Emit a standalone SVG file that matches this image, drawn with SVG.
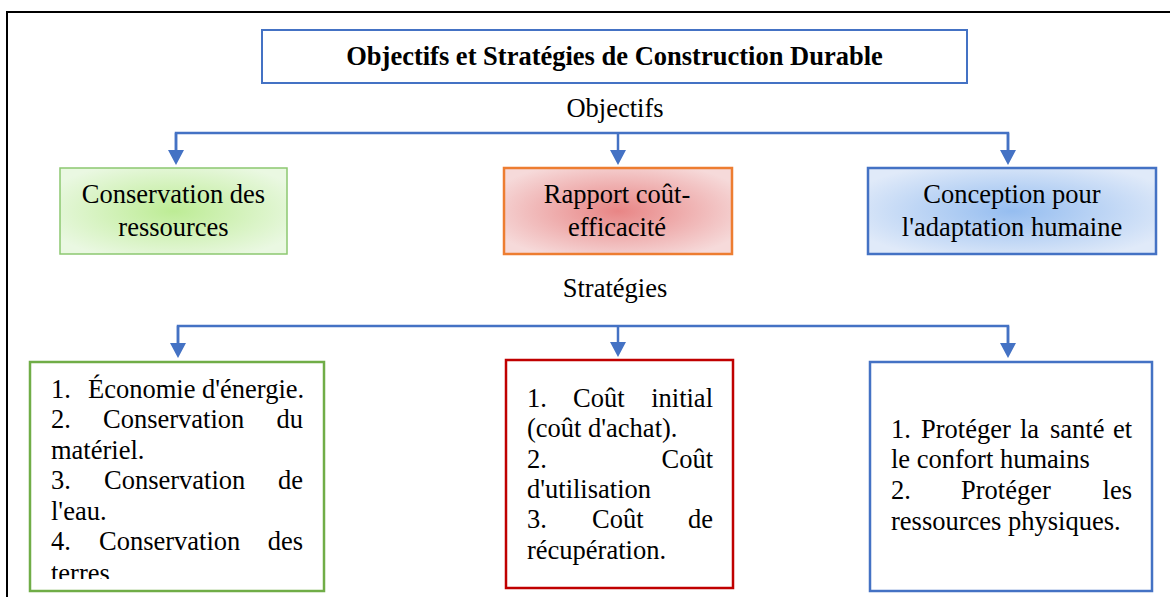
<svg xmlns="http://www.w3.org/2000/svg" width="1170" height="597" viewBox="0 0 1170 597">
<style>
text{font-family:"Liberation Serif","Times New Roman",serif;font-size:26.5px;fill:#000}
.title{font-weight:bold}
.c{text-anchor:middle}
.e{text-anchor:end}
.conn{fill:none;stroke:#4472C4;stroke-width:2.5}
</style>
<defs>
<marker id="arr" viewBox="0 0 15 16" refX="0" refY="8" markerWidth="15" markerHeight="16" orient="auto" markerUnits="userSpaceOnUse">
<path d="M0,0 L15,8 L0,16 z" fill="#4472C4"/>
</marker>
<radialGradient id="gGreen" cx="0.5" cy="0.5" r="0.6">
<stop offset="0" stop-color="#bdec95"/>
<stop offset="1" stop-color="#eaf8e2"/>
</radialGradient>
<radialGradient id="gRed" cx="0.5" cy="0.5" r="0.6">
<stop offset="0" stop-color="#e88585"/>
<stop offset="1" stop-color="#f6dada"/>
</radialGradient>
<radialGradient id="gBlue" cx="0.5" cy="0.5" r="0.6">
<stop offset="0" stop-color="#95bdf0"/>
<stop offset="1" stop-color="#e0eaf9"/>
</radialGradient>
<clipPath id="clipG"><rect x="30" y="362" width="294" height="217"/></clipPath>
</defs>

<rect x="7" y="12" width="1200" height="700" fill="#fff" stroke="#000" stroke-width="2"/>

<g id="title">
<rect x="262" y="30" width="705" height="53" fill="#fff" stroke="#4472C4" stroke-width="2"/>
<text class="title c" x="614.5" y="65">Objectifs et Stratégies de Construction Durable</text>
</g>

<g id="label-objectifs"><text class="c" x="615" y="117">Objectifs</text></g>
<g id="label-strategies"><text class="c" x="615" y="297">Stratégies</text></g>

<g id="connectors">
<path class="conn" d="M176,150 V133 H1008 V150"/>
<path class="conn" d="M176,133 V150" marker-end="url(#arr)"/>
<path class="conn" d="M618,133 V150" marker-end="url(#arr)"/>
<path class="conn" d="M1008,133 V150" marker-end="url(#arr)"/>
<path class="conn" d="M178,343 V326 H1008 V343"/>
<path class="conn" d="M178,326 V343" marker-end="url(#arr)"/>
<path class="conn" d="M618,326 V342" marker-end="url(#arr)"/>
<path class="conn" d="M1008,326 V343" marker-end="url(#arr)"/>
</g>

<g id="obj-conservation">
<rect x="60" y="168" width="227" height="86" fill="url(#gGreen)" stroke="#8cc870" stroke-width="1.5"/>
<text class="c" x="173.5" y="203">Conservation des</text>
<text class="c" x="173.5" y="236">ressources</text>
</g>

<g id="obj-cout">
<rect x="504" y="168" width="228" height="86" fill="url(#gRed)" stroke="#ED7D31" stroke-width="2.5"/>
<text class="c" x="617" y="203">Rapport coût-</text>
<text class="c" x="617" y="236">efficacité</text>
</g>

<g id="obj-adaptation">
<rect x="868" y="168" width="288" height="86" fill="url(#gBlue)" stroke="#4472C4" stroke-width="2.5"/>
<text class="c" x="1012" y="203">Conception pour</text>
<text class="c" x="1012" y="236">l'adaptation humaine</text>
</g>

<g id="strat-conservation">
<rect x="30" y="362" width="294" height="229" fill="#fff" stroke="#70AD47" stroke-width="2.5"/>
<g clip-path="url(#clipG)">
<text x="51" y="398">1.</text><text x="88" y="398">Économie d'énergie.</text>
<text x="51" y="428">2.</text><text x="103" y="428">Conservation</text><text class="e" x="303" y="428">du</text>
<text x="51" y="459">matériel.</text>
<text x="51" y="489">3.</text><text x="104" y="489">Conservation</text><text class="e" x="303" y="489">de</text>
<text x="51" y="520">l'eau.</text>
<text x="51" y="550">4.</text><text x="99" y="550">Conservation</text><text class="e" x="303" y="550">des</text>
<text x="51" y="582">terres</text>
</g>
</g>

<g id="strat-cout">
<rect x="506" y="360" width="227" height="228" fill="#fff" stroke="#C00000" stroke-width="2.5"/>
<text x="527" y="407">1.</text><text x="573" y="407">Coût</text><text class="e" x="713" y="407">initial</text>
<text x="527" y="437">(coût d'achat).</text>
<text x="527" y="468">2.</text><text class="e" x="713" y="468">Coût</text>
<text x="527" y="498">d'utilisation</text>
<text x="527" y="528">3.</text><text x="592" y="528">Coût</text><text class="e" x="713" y="528">de</text>
<text x="527" y="559">récupération.</text>
</g>

<g id="strat-adaptation">
<rect x="870" y="362" width="282" height="229" fill="#fff" stroke="#4472C4" stroke-width="2.5"/>
<text x="891" y="438">1.</text><text x="921" y="438">Protéger</text><text x="1020" y="438">la</text><text x="1050" y="438">santé</text><text class="e" x="1132" y="438">et</text>
<text x="891" y="468">le confort humains</text>
<text x="891" y="499">2.</text><text x="961" y="499">Protéger</text><text class="e" x="1132" y="499">les</text>
<text x="891" y="530">ressources physiques.</text>
</g>
</svg>
